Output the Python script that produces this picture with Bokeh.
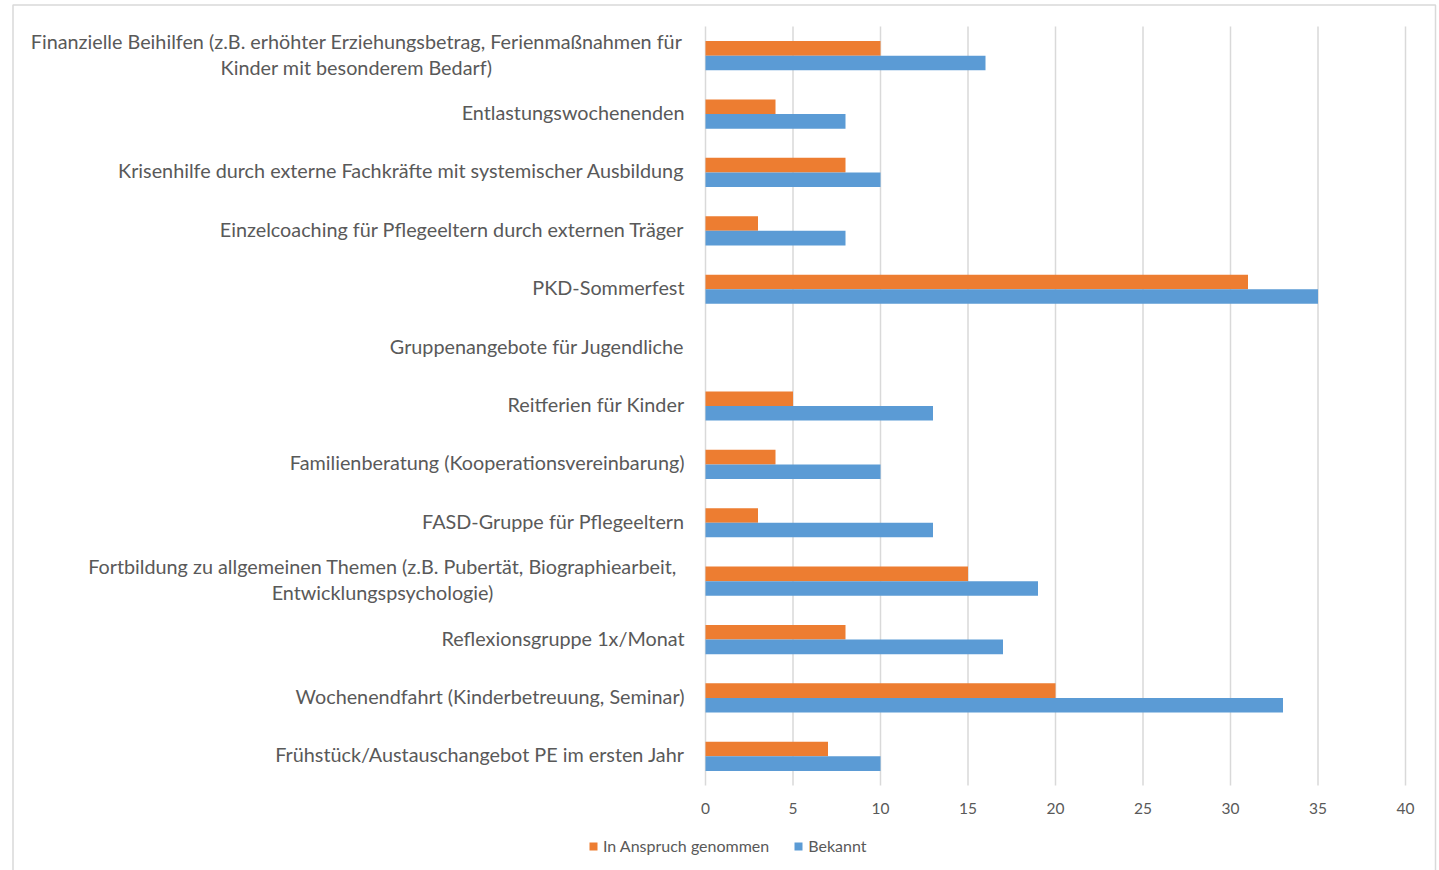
from bokeh.plotting import figure
from bokeh.models import Range1d, Legend, LegendItem
from bokeh.core.properties import value
from bokeh.embed import file_html
from bokeh.resources import INLINE

# Angebote (von oben nach unten); zweizeilige Beschriftungen als Liste von Zeilen
categories = [
    ["Finanzielle Beihilfen (z.B. erhöhter Erziehungsbetrag, Ferienmaßnahmen für",
     "Kinder mit besonderem Bedarf)"],
    ["Entlastungswochenenden"],
    ["Krisenhilfe durch externe Fachkräfte mit systemischer Ausbildung"],
    ["Einzelcoaching für Pflegeeltern durch externen Träger"],
    ["PKD-Sommerfest"],
    ["Gruppenangebote für Jugendliche"],
    ["Reitferien für Kinder"],
    ["Familienberatung (Kooperationsvereinbarung)"],
    ["FASD-Gruppe für Pflegeeltern"],
    ["Fortbildung zu allgemeinen Themen (z.B. Pubertät, Biographiearbeit,",
     "Entwicklungspsychologie)"],
    ["Reflexionsgruppe 1x/Monat"],
    ["Wochenendfahrt (Kinderbetreuung, Seminar)"],
    ["Frühstück/Austauschangebot PE im ersten Jahr"],
]
in_anspruch = [10, 4, 8, 3, 31, 0, 5, 4, 3, 15, 8, 20, 7]
bekannt = [16, 8, 10, 8, 35, 0, 13, 10, 13, 19, 17, 33, 10]
x_ticks = [0, 5, 10, 15, 20, 25, 30, 35, 40]
series_names = ["In Anspruch genommen", "Bekannt"]

ORANGE = "#ED7D31"
BLUE = "#5B9BD5"
GRID = "#D9D9D9"
TEXT = "#595959"
FONT = "Lato"

W, H = 1439, 870
# plot area inside the canvas (pixels)
PX0, PX1 = 705, 1405      # x = 0 .. 40
PY0, PY1 = 26, 785        # top .. bottom of the category band
XMAX = 40

n = len(categories)
sx = (PX1 - PX0) / XMAX           # px per unit in x
sy = (PY1 - PY0) / n              # px per category row


def dx(px):
    return (px - PX0) / sx


def dy(py):
    return (PY1 - py) / sy


p = figure(width=W, height=H,
           x_range=Range1d(dx(0), dx(W)), y_range=Range1d(dy(H), dy(0)),
           x_axis_location=None, y_axis_location=None,
           output_backend="svg", toolbar_location=None,
           min_border=0, min_border_left=0, min_border_right=0,
           min_border_top=0, min_border_bottom=0)
p.outline_line_color = None
p.xgrid.visible = False
p.ygrid.visible = False

ypos = [n - 0.5 - i for i in range(n)]
bar_h = 0.25

# vertical grid lines across the category band
p.segment(x0=x_ticks, y0=[0] * len(x_ticks), x1=x_ticks, y1=[n] * len(x_ticks),
          line_color=GRID, line_width=1.5)

r_o = p.hbar(y=[y + bar_h / 2 for y in ypos], right=in_anspruch, left=0, height=bar_h,
             color=ORANGE, line_color=None)
r_b = p.hbar(y=[y - bar_h / 2 for y in ypos], right=bekannt, left=0, height=bar_h,
             color=BLUE, line_color=None)

# x tick labels
p.text(x=x_ticks, y=[dy(808)] * len(x_ticks), text=[str(t) for t in x_ticks],
       text_align="center", text_baseline="middle", text_font=value(FONT),
       text_font_size="15.5px", text_color=TEXT)

# category labels (slightly above the row centre)
LABEL_SIZE = "19.8px"
lift = 2 / sy
single_x, single_y, single_t = [], [], []
multi_x, multi_y, multi_t = [], [], []
two_line_centers = {0: 356, 9: 382}
half_gap = 13 / sy
for i, lines in enumerate(categories):
    if len(lines) == 1:
        single_x.append(dx(684))
        single_y.append(ypos[i] + lift)
        single_t.append(lines[0])
    else:
        for k, line in enumerate(lines):
            multi_x.append(dx(two_line_centers[i]))
            multi_y.append(ypos[i] + lift + half_gap - 2 * half_gap * k)
            multi_t.append(line)
p.text(x=single_x, y=single_y, text=single_t, text_align="right",
       text_baseline="middle", text_font=value(FONT), text_font_size=LABEL_SIZE,
       text_color=TEXT)
p.text(x=multi_x, y=multi_y, text=multi_t, text_align="center",
       text_baseline="middle", text_font=value(FONT), text_font_size=LABEL_SIZE,
       text_color=TEXT)

# chart border (bottom edge runs below the visible page)
p.line(x=[dx(12.5), dx(12.5), dx(1435), dx(1435)],
       y=[dy(H + 20), dy(4.5), dy(4.5), dy(H + 20)],
       line_color=GRID, line_width=1.5)

legend = Legend(items=[LegendItem(label=series_names[0], renderers=[r_o]),
                       LegendItem(label=series_names[1], renderers=[r_b])],
                orientation="horizontal", location=(588, H - 855),
                glyph_width=10, glyph_height=10, label_height=16,
                label_standoff=5, spacing=24, padding=0, margin=0,
                border_line_color=None, background_fill_alpha=0,
                label_text_font=FONT, label_text_font_size="16px",
                label_text_color=TEXT)
p.add_layout(legend, "center")

open("out.html", "w").write(file_html(p, INLINE))
